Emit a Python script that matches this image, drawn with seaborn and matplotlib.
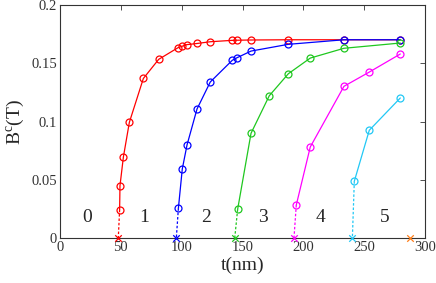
import matplotlib
matplotlib.use("Agg")
import matplotlib.pyplot as plt
import seaborn as sns
import pandas as pd
from matplotlib.ticker import FuncFormatter

# ---- data ----
red_t = [49.0, 49.3, 52.1, 57.0, 68.5, 81.1, 97.0, 100.3, 104.1, 112.6, 123.5, 141.6, 145.2, 157.0, 187.7, 233.4, 279.7]
red_b = [0.0245, 0.0451, 0.0697, 0.0994, 0.137, 0.1534, 0.1634, 0.1646, 0.1660, 0.1670, 0.1685, 0.1697, 0.1698, 0.1700, 0.1702, 0.1702, 0.1702]
blue_t = [97.3, 100.5, 104.4, 112.6, 123.5, 141.6, 145.5, 157.0, 187.7, 233.4, 279.7]
blue_b = [0.0257, 0.0594, 0.0800, 0.1108, 0.1340, 0.1526, 0.1548, 0.1605, 0.1663, 0.1702, 0.1702]
green_t = [146.0, 157.0, 172.0, 187.7, 205.7, 233.4, 279.7]
green_b = [0.0248, 0.0900, 0.1222, 0.1411, 0.1545, 0.1629, 0.1674]
magenta_t = [194.2, 205.7, 233.4, 254.2, 279.7]
magenta_b = [0.0285, 0.0783, 0.1303, 0.1425, 0.1580]
cyan_t = [241.9, 254.2, 279.7]
cyan_b = [0.0489, 0.0926, 0.1203]
cross_t = [47.9, 95.6, 143.6, 192.3, 240.3, 288.0]
region_labels = ["0", "1", "2", "3", "4", "5"]
region_x = [22, 69, 120, 166.6, 214.5, 267]
region_y = 0.0175

series_t = [red_t, blue_t, green_t, magenta_t, cyan_t]
series_b = [red_b, blue_b, green_b, magenta_b, cyan_b]
colors = ["#ff0000", "#0000ff", "#1fc71f", "#ff00ff", "#22c8f5"]
cross_colors = colors + ["#ff7f1a"]

sns.set_style("white")
plt.rcParams["font.family"] = ["Liberation Serif", "DejaVu Serif"]
plt.rcParams["mathtext.fontset"] = "custom"
plt.rcParams["mathtext.rm"] = "Liberation Serif"

fig = plt.figure(figsize=(4.36, 2.83), dpi=100)
ax = fig.add_axes([60/436, 1-238.3/283, 365/436, 233.3/283])

for i, (t, b) in enumerate(zip(series_t, series_b)):
    df = pd.DataFrame({"t": t, "B": b})
    sns.lineplot(data=df, x="t", y="B", ax=ax, color=colors[i], lw=0.9,
                 marker="o", markersize=5, markerfacecolor="none",
                 markeredgecolor=colors[i], markeredgewidth=0.9,
                 sort=False, estimator=None)
    # dotted connector down to the cross
    dd = pd.DataFrame({"t": [t[0], cross_t[i]], "B": [b[0], 0.0]})
    sns.lineplot(data=dd, x="t", y="B", ax=ax, color=colors[i], lw=0.9,
                 linestyle=(0, (2, 1.5)), sort=False, estimator=None)

for i in range(len(cross_t)):
    ax.scatter([cross_t[i]], [0.0], marker="x", s=22, color=cross_colors[i],
               linewidths=0.9, clip_on=False, zorder=5)

for lab, x in zip(region_labels, region_x):
    ax.text(x, region_y, lab, ha="center", va="center", fontsize=14)

ax.set_xlim(0, 300)
ax.set_ylim(0, 0.2)
ax.set_xticks([0, 50, 100, 150, 200, 250, 300])
ax.set_yticks([0, 0.05, 0.1, 0.15, 0.2])
ax.yaxis.set_major_formatter(FuncFormatter(lambda v, p: "%g" % v))
ax.tick_params(direction="in", length=3.5, width=0.6, top=True, right=True,
               labelsize=10.5, colors="#333333", pad=2)
for s in ax.spines.values():
    s.set_color("#333333")
    s.set_linewidth(0.8)
ax.set_xlabel("t(nm)", fontsize=14, labelpad=2)
ax.set_ylabel(r"B$^{\mathrm{c}}$(T)", fontsize=14, labelpad=3)

fig.savefig("out.png", dpi=100)
